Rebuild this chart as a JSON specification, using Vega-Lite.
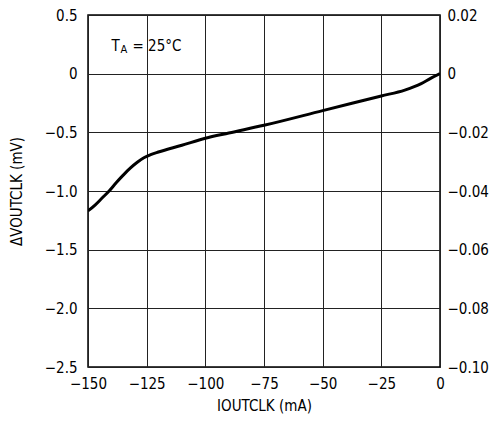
{
  "$schema": "https://vega.github.io/schema/vega-lite/v6.json",
  "autosize": "none",
  "width": 352,
  "height": 352,
  "padding": {"left": 88, "top": 15, "right": 50, "bottom": 58},
  "background": "white",
  "config": {
    "font": "Liberation Sans Narrow, DejaVu Sans Condensed, Liberation Sans, Arial",
    "view": {"stroke": "black", "strokeWidth": 1.5},
    "axis": {
      "labelFont": "Liberation Sans Narrow, DejaVu Sans Condensed, Liberation Sans, Arial",
      "titleFont": "Liberation Sans Narrow, DejaVu Sans Condensed, Liberation Sans, Arial",
      "labelFontSize": 15,
      "titleFontSize": 15,
      "labelColor": "black",
      "titleColor": "black",
      "titleFontWeight": "normal",
      "ticks": false,
      "domain": false,
      "labelFlush": false,
      "gridColor": "#222",
      "gridOpacity": 1,
      "gridWidth": 1,
      "labelPadding": 11
    }
  },
  "data": {
    "values": [
      {"i": -150, "v": -1.17},
      {"i": -147, "v": -1.12},
      {"i": -144, "v": -1.06},
      {"i": -141, "v": -1.0},
      {"i": -138, "v": -0.93},
      {"i": -135, "v": -0.865},
      {"i": -132, "v": -0.805},
      {"i": -129, "v": -0.755},
      {"i": -126, "v": -0.715},
      {"i": -123, "v": -0.688},
      {"i": -120, "v": -0.668},
      {"i": -110, "v": -0.61},
      {"i": -100, "v": -0.55},
      {"i": -90, "v": -0.505},
      {"i": -75, "v": -0.44},
      {"i": -50, "v": -0.315},
      {"i": -25, "v": -0.19},
      {"i": -15, "v": -0.14},
      {"i": -8, "v": -0.085},
      {"i": -4, "v": -0.04},
      {"i": 0, "v": 0}
    ]
  },
  "layer": [
    {
      "mark": {"type": "line", "color": "black", "strokeWidth": 3, "interpolate": "monotone", "clip": true},
      "encoding": {
        "x": {
          "field": "i", "type": "quantitative",
          "scale": {"domain": [-150, 0], "nice": false, "zero": false},
          "axis": {
            "values": [-150, -125, -100, -75, -50, -25, 0],
            "labelExpr": "replace(format(datum.value, 'd'), '-', '−')",
            "title": "IOUTCLK (mA)",
            "titlePadding": 7,
            "labelPadding": 9
          }
        },
        "y": {
          "field": "v", "type": "quantitative",
          "scale": {"domain": [-2.5, 0.5], "nice": false, "zero": false},
          "axis": {
            "values": [-2.5, -2.0, -1.5, -1.0, -0.5, 0, 0.5],
            "labelExpr": "datum.value == 0 ? '0' : replace(format(datum.value, '.1f'), '-', '−')",
            "title": "ΔVOUTCLK (mV)",
            "titlePadding": 20
          }
        }
      }
    },
    {
      "mark": {"type": "line", "opacity": 0},
      "encoding": {
        "x": {"field": "i", "type": "quantitative", "scale": {"domain": [-150, 0], "nice": false, "zero": false}},
        "y": {
          "field": "v", "type": "quantitative",
          "scale": {"domain": [-2.5, 0.5], "nice": false, "zero": false},
          "axis": {
            "orient": "right",
            "grid": false,
            "labelPadding": 7,
            "values": [-2.5, -2.0, -1.5, -1.0, -0.5, 0, 0.5],
            "labelExpr": "datum.value == 0 ? '0' : replace(format(datum.value * 0.04, '.2f'), '-', '−')",
            "title": null
          }
        }
      }
    },
    {
      "data": {"values": [{"i": -140, "v": 0.235, "t": "T", "s": "A", "r": "= 25°C"}]},
      "encoding": {
        "x": {"field": "i", "type": "quantitative"},
        "y": {"field": "v", "type": "quantitative", "scale": {"domain": [-2.5, 0.5], "nice": false, "zero": false}, "axis": null}
      },
      "layer": [
        {
          "mark": {"type": "text", "align": "left", "baseline": "middle", "fontSize": 15, "color": "black"},
          "encoding": {"text": {"field": "t"}}
        },
        {
          "mark": {"type": "text", "align": "left", "baseline": "middle", "fontSize": 11, "dx": 9, "dy": 4, "color": "black"},
          "encoding": {"text": {"field": "s"}}
        },
        {
          "mark": {"type": "text", "align": "left", "baseline": "middle", "fontSize": 15, "dx": 21, "color": "black"},
          "encoding": {"text": {"field": "r"}}
        }
      ]
    }
  ],
  "resolve": {"scale": {"y": "independent"}}
}
